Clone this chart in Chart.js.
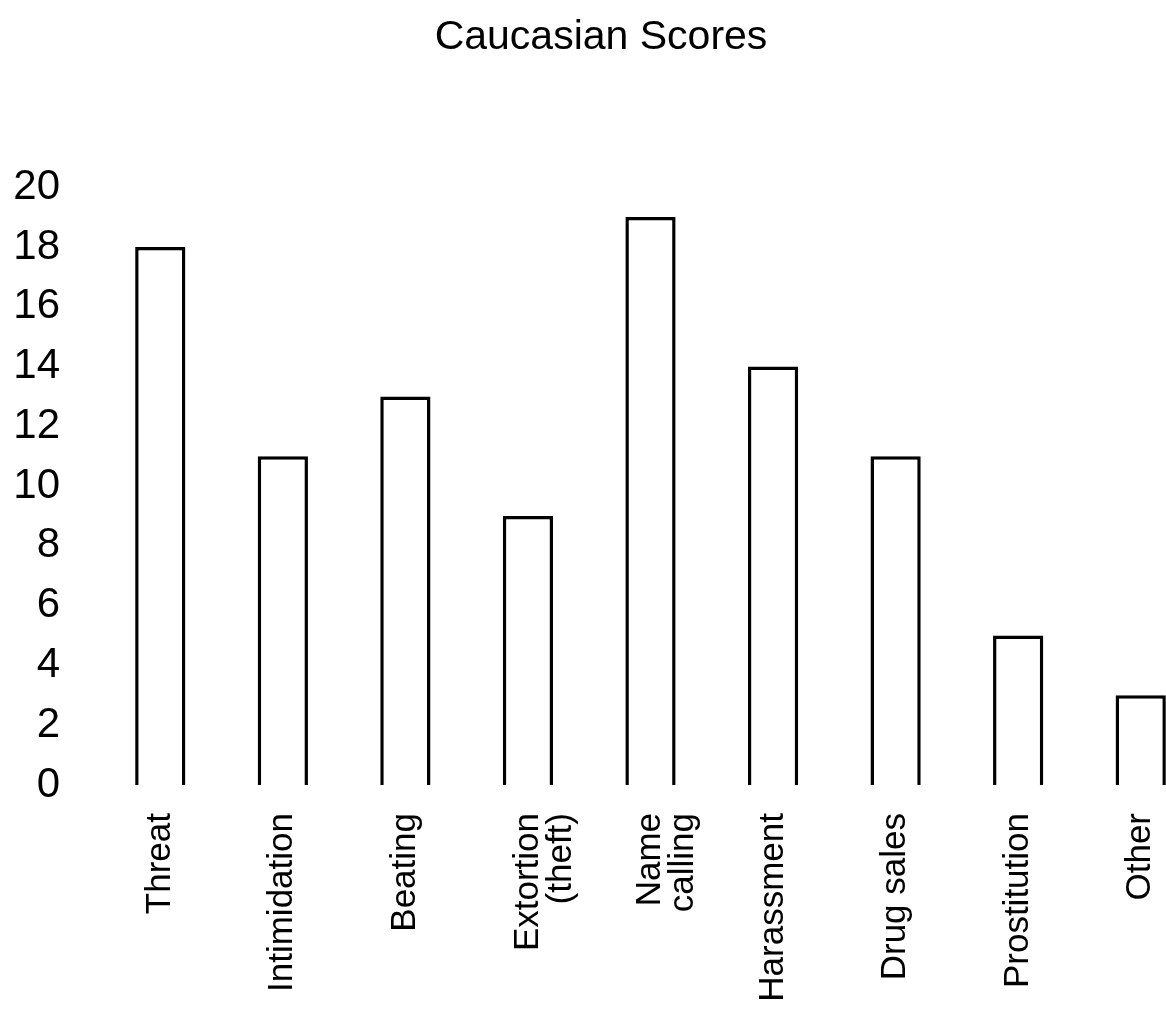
<!DOCTYPE html>
<html>
<head>
<meta charset="utf-8">
<title>Caucasian Scores</title>
<script src="https://cdn.jsdelivr.net/npm/chart.js@4.4.1/dist/chart.umd.min.js"></script>
<style>
    html, body { margin: 0; padding: 0; background: #fff; overflow: hidden; }
    #grafico { display: block; }
</style>
</head>
<body>
<canvas id="grafico" width="1210" height="1010"></canvas>
<script>
// Datos
const categorias = [
    'Threat', 'Intimidation', 'Beating', ['Extortion', '(theft)'], ['Name', 'calling'],
    'Harassment', 'Drug sales', 'Prostitution', 'Other'
];
const puntajes = [18, 11, 13, 9, 19, 14, 11, 5, 3];
const ticksY = [0, 2, 4, 6, 8, 10, 12, 14, 16, 18, 20];

const fuente = "'Liberation Sans', Arial, sans-serif";

const ctx = document.getElementById('grafico').getContext('2d');

new Chart(ctx, {
    type: 'bar',
    data: {
        labels: categorias,
        datasets: [{
            label: 'Caucasian',
            data: puntajes,
            backgroundColor: '#ffffff',
            borderColor: '#000000',
            borderWidth: 3.5,
            categoryPercentage: 1,
            barPercentage: 0.41
        }]
    },
    options: {
        responsive: false,
        animation: false,
        layout: { padding: { left: 0, right: 8, top: 0, bottom: 0 } },
        plugins: {
            legend: { display: false },
            tooltip: { enabled: false },
            title: {
                display: true,
                text: 'Caucasian Scores',
                color: '#000',
                font: { family: fuente, size: 41, weight: 'normal', lineHeight: 1.2 },
                padding: { top: 13, bottom: 125 }
            }
        },
        scales: {
            x: {
                grid: { display: false },
                border: { display: false },
                ticks: {
                    color: '#000',
                    autoSkip: false,
                    minRotation: 90,
                    maxRotation: 90,
                    padding: 20,
                    font: { family: fuente, size: 35, lineHeight: 0.95 }
                },
                afterFit: (scale) => { scale.height = 225; }
            },
            y: {
                min: ticksY[0],
                max: ticksY[ticksY.length - 1],
                afterBuildTicks: (scale) => {
                    scale.ticks = ticksY.map(v => ({ value: v }));
                },
                grid: { display: false },
                border: { display: false },
                ticks: {
                    color: '#000',
                    autoSkip: false,
                    padding: 31,
                    font: { family: fuente, size: 42, lineHeight: 1.1 }
                },
                afterFit: (scale) => { scale.width = 99; }
            }
        }
    }
});
</script>
</body>
</html>
